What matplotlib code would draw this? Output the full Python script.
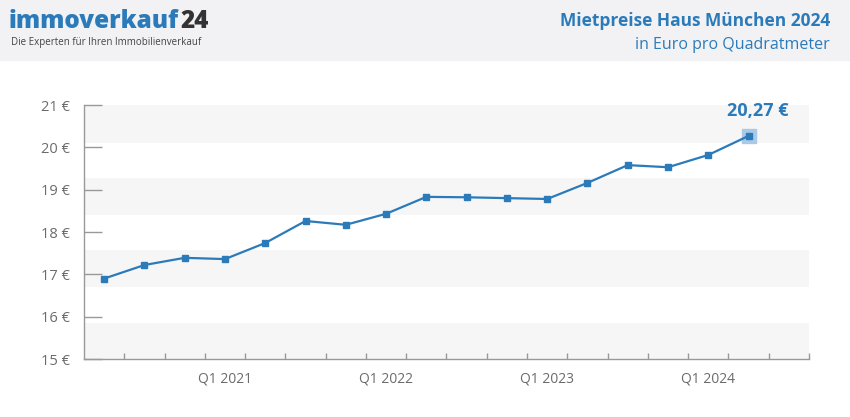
import numpy as np
import matplotlib.pyplot as plt
from matplotlib.patches import Rectangle

# -----------------------
# Data
# -----------------------
quarters = ['Q2 2020', 'Q3 2020', 'Q4 2020',
            'Q1 2021', 'Q2 2021', 'Q3 2021', 'Q4 2021',
            'Q1 2022', 'Q2 2022', 'Q3 2022', 'Q4 2022',
            'Q1 2023', 'Q2 2023', 'Q3 2023', 'Q4 2023',
            'Q1 2024', 'Q2 2024', 'Q3 2024']
prices = [16.90, 17.22, 17.39, 17.36, 17.74, 18.26, 18.17, 18.43, 18.83,
          18.82, 18.80, 18.78, 19.16, 19.58, 19.53, 19.82, 20.27]
y_ticks = [15, 16, 17, 18, 19, 20, 21]
y_labels = ['15 €', '16 €', '17 €', '18 €', '19 €', '20 €', '21 €']
last_label = '20,27 €'

blue = '#2b7bba'
grey = '#6b6b6b'
plt.rcParams['font.family'] = ['Open Sans', 'DejaVu Sans']

fig = plt.figure(figsize=(8.5, 4.17), dpi=100)

# -----------------------
# Header band
# -----------------------
fig.patches.append(Rectangle((0, 1 - 60 / 417), 1, 60 / 417, transform=fig.transFigure,
                             color='#f2f2f4', zorder=0))
t = fig.text(9 / 850, 1 - 22 / 417, 'immoverkauf', fontsize=17.5, fontweight=800,
             color=blue, va='center', ha='left')
fig.canvas.draw()
bb = t.get_window_extent()
fig.text(bb.x1 / 850 + 0.001, 1 - 22 / 417, '24', fontsize=17.5, fontweight=800,
         color='#333333', va='center', ha='left')
fig.text(11 / 850, 1 - 43 / 417, 'Die Experten für Ihren Immobilienverkauf', fontsize=7,
         color='#444444', va='center', ha='left')
fig.text(830 / 850, 1 - 21 / 417, 'Mietpreise Haus München 2024', fontsize=12.5,
         fontweight='bold', color=blue, va='center', ha='right')
fig.text(830 / 850, 1 - 45 / 417, 'in Euro pro Quadratmeter', fontsize=11.5,
         color=blue, va='center', ha='right')

# -----------------------
# Chart
# -----------------------
ax = fig.add_axes([84 / 850, 1 - 359 / 417, 725 / 850, 254 / 417])
n = len(quarters)
x = np.arange(len(prices)) + 0.5

# alternating background stripes
for y0, y1 in [(15.0, 15.85), (16.7, 17.57), (18.4, 19.28), (20.1, 21.0)]:
    ax.axhspan(y0, y1, color='#f6f6f7', lw=0, zorder=0)

ax.plot(x, prices, color=blue, lw=1.6, marker='s', ms=5, zorder=3)
ax.plot(x[-1], prices[-1], marker='s', ms=10, color='#a9c9e6', lw=0, zorder=2)
ax.text(x[-1] + 0.23, prices[-1] + 0.59, last_label, fontsize=13, fontweight='bold',
        color=blue, ha='center', va='center')

ax.set_xlim(0, n)
ax.set_ylim(15, 21)
ax.set_yticks(y_ticks)
ax.set_yticklabels(y_labels)
ax.set_xticks(np.arange(1, n + 1))
ax.set_xticklabels([])
ax.set_xticks(np.arange(n) + 0.5, minor=True)
ax.set_xticklabels([q if q.startswith('Q1') else '' for q in quarters], minor=True)

ax.tick_params(axis='y', direction='in', length=13, width=1, color='#999999',
               labelcolor=grey, labelsize=10.5, pad=10)
ax.tick_params(axis='x', which='major', direction='in', length=4.5, width=1, color='#999999')
ax.tick_params(axis='x', which='minor', length=0, labelcolor=grey, labelsize=10, pad=9)

for s in ['top', 'right']:
    ax.spines[s].set_visible(False)
for s in ['left', 'bottom']:
    ax.spines[s].set_color('#999999')
    ax.spines[s].set_linewidth(1)

plt.savefig('out.png', dpi=100)
